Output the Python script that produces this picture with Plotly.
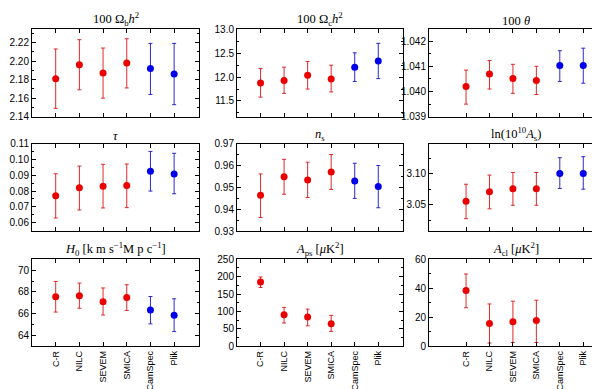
import plotly.graph_objs as go

# Component-separation / likelihood names
names = ['C-R', 'NILC', 'SEVEM', 'SMICA', 'CamSpec', 'Plik']

# central value, upper and lower end of the error bar
omb_val = [2.181, 2.196, 2.187, 2.198, 2.192, 2.186]
omb_hi = [2.213, 2.223, 2.214, 2.224, 2.219, 2.219]
omb_lo = [2.149, 2.169, 2.160, 2.171, 2.164, 2.153]

omc_val = [11.88, 11.93, 12.04, 11.96, 12.21, 12.34]
omc_hi = [12.18, 12.21, 12.33, 12.25, 12.51, 12.71]
omc_lo = [11.58, 11.66, 11.75, 11.69, 11.91, 11.97]

theta_val = [1.0402, 1.0407, 1.04052, 1.04044, 1.04103, 1.04103]
theta_hi = [1.04085, 1.04123, 1.04108, 1.0410, 1.04162, 1.04172]
theta_lo = [1.0395, 1.0401, 1.03993, 1.03988, 1.0404, 1.04033]

tau_val = [0.0771, 0.0821, 0.0831, 0.0835, 0.0926, 0.0909]
tau_hi = [0.0910, 0.0959, 0.0970, 0.0972, 0.1052, 0.1040]
tau_lo = [0.0629, 0.0680, 0.0693, 0.0695, 0.0800, 0.0783]

ns_val = [0.9464, 0.9549, 0.9534, 0.9571, 0.9530, 0.9504]
ns_hi = [0.9562, 0.9629, 0.9616, 0.9651, 0.9611, 0.9601]
ns_lo = [0.9362, 0.9469, 0.9454, 0.9491, 0.9450, 0.9407]

as_val = [3.0558, 3.0710, 3.0758, 3.0758, 3.1005, 3.1005]
as_hi = [3.0832, 3.0979, 3.1021, 3.1020, 3.1258, 3.1274]
as_lo = [3.0279, 3.0437, 3.0495, 3.0495, 3.0763, 3.0753]

h0_val = [67.55, 67.64, 67.10, 67.49, 66.33, 65.85]
h0_hi = [68.96, 68.81, 68.36, 68.66, 67.58, 67.37]
h0_lo = [66.15, 66.50, 65.88, 66.30, 65.07, 64.36]

aps_val = [185, 91, 84, 65]
aps_hi = [199, 112, 107, 89]
aps_lo = [169, 67, 59, 43]

acl_val = [38.4, 15.7, 16.9, 17.8]
acl_hi = [49.8, 29.2, 31.1, 31.8]
acl_lo = [26.6, 2.3, 2.7, 2.7]

panels = [
    ('100 Ω<sub>b</sub><i>h</i><sup>2</sup>', omb_val, omb_hi, omb_lo, [2.14, 2.235], 0.02, '.2f'),
    ('100 Ω<sub>c</sub><i>h</i><sup>2</sup>', omc_val, omc_hi, omc_lo, [11.17, 13.02], 0.5, '.1f'),
    ('100 <i>θ</i>', theta_val, theta_hi, theta_lo, [1.039, 1.0425], 0.001, '.3f'),
    ('<i>τ</i>', tau_val, tau_hi, tau_lo, [0.0546, 0.110], 0.01, '.2f'),
    ('<i>n</i><sub>s</sub>', ns_val, ns_hi, ns_lo, [0.93, 0.97], 0.01, '.2f'),
    ('ln(10<sup>10</sup><i>A</i><sub>s</sub>)', as_val, as_hi, as_lo, [3.008, 3.148], 0.05, '.2f'),
    ('<i>H</i><sub>0</sub> [k m s<sup>−1</sup>M p c<sup>−1</sup>]', h0_val, h0_hi, h0_lo, [63, 71], 2, 'd'),
    ('<i>A</i><sub>ps</sub> [<i>μ</i>K<sup>2</sup>]', aps_val, aps_hi, aps_lo, [0, 250], 50, 'd'),
    ('<i>A</i><sub>cl</sub> [<i>μ</i>K<sup>2</sup>]', acl_val, acl_hi, acl_lo, [0, 60], 20, 'd'),
]

# panel placement in pixels of the 600x389 page
W, H = 600, 389
col_px = [(24, 191), (229, 395), (421, 594)]
row_px = [(15, 106), (134, 224), (253, 343)]
col_xrange = [[-1, 6.05], [-1, 6.05], [-1.58, 5.8]]

fig = go.Figure()
layout = dict(width=W, height=H, showlegend=False,
              margin=dict(l=0, r=0, t=0, b=0),
              paper_bgcolor='white', plot_bgcolor='white',
              font=dict(family='Liberation Sans, Arial', size=9, color='black'),
              annotations=[])

for i, (title, val, hi, lo, yr, dt, fmt) in enumerate(panels):
    r, c = divmod(i, 3)
    n = i + 1
    xa = 'x' if n == 1 else 'x%d' % n
    ya = 'y' if n == 1 else 'y%d' % n
    groups = [(0, 4, 'rgb(235,0,0)', 'rgba(220,20,20,0.9)'),
              (4, 6, 'rgb(0,0,235)', 'rgba(20,20,200,0.9)')]
    for a, b, mc, ec in groups:
        if a >= len(val):
            continue
        fig.add_trace(go.Scatter(
            x=names[a:b], y=val[a:b], mode='markers',
            marker=dict(color=mc, size=7),
            error_y=dict(type='data', symmetric=False,
                         array=[h - v for h, v in zip(hi[a:b], val[a:b])],
                         arrayminus=[v - l for v, l in zip(val[a:b], lo[a:b])],
                         color=ec, thickness=1, width=2),
            xaxis=xa, yaxis=ya))

    x0, x1 = col_px[c]
    y0, y1 = row_px[r]
    layout['xaxis' if n == 1 else 'xaxis%d' % n] = dict(
        domain=[x0 / W, x1 / W], anchor=ya, type='category',
        categoryorder='array', categoryarray=names,
        range=col_xrange[c], showgrid=False, zeroline=False,
        showline=True, linecolor='black', linewidth=1, mirror='allticks',
        ticks='inside', ticklen=4, tickcolor='black',
        showticklabels=(r == 2), tickangle=-90, tickfont=dict(size=9))
    layout['yaxis' if n == 1 else 'yaxis%d' % n] = dict(
        domain=[1 - y1 / H, 1 - y0 / H], anchor=xa, range=yr,
        dtick=dt, tick0=0, tickformat=fmt, showgrid=False, zeroline=False,
        showline=True, linecolor='black', linewidth=1, mirror='allticks',
        ticks='inside', ticklen=4, tickcolor='black', tickfont=dict(size=10),
        minor=dict(dtick=dt / 2, ticks='inside', ticklen=2, tickcolor='black', showgrid=False))
    layout['annotations'].append(dict(
        text=title, x=(x0 + x1) / 2 / W, y=1 - y0 / H, xref='paper', yref='paper',
        xanchor='center', yanchor='bottom', yshift=-1, showarrow=False,
        font=dict(family='Liberation Serif, DejaVu Serif', size=12.5)))

fig.update_layout(**layout)
fig.write_html('out.html')
